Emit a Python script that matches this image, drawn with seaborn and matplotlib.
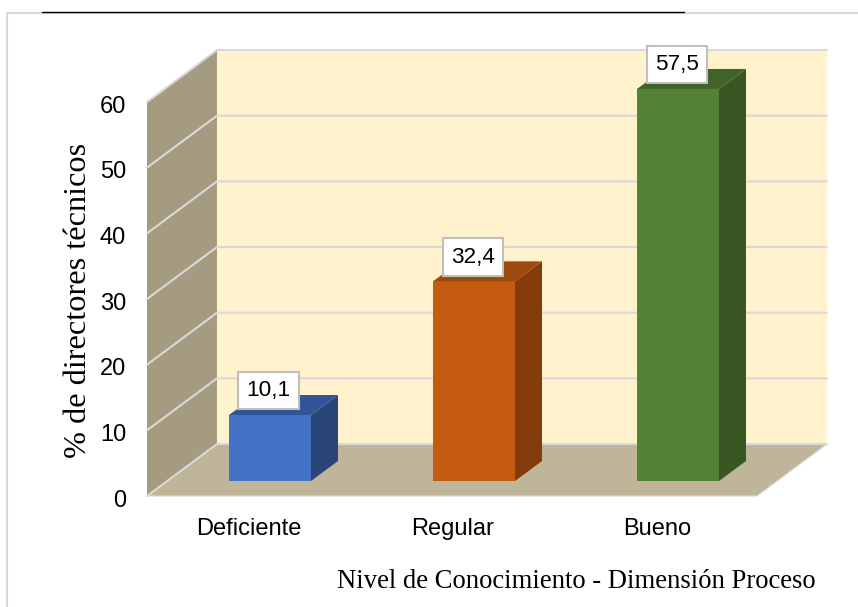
import pandas as pd
import matplotlib
matplotlib.use("Agg")
import matplotlib.pyplot as plt
from matplotlib.lines import Line2D
from matplotlib.patches import Polygon
from matplotlib.transforms import ScaledTranslation
import seaborn as sns

# === Datos
niveles = ["Deficiente", "Regular", "Bueno"]
alturas = [10.05, 30.4, 59.7]
etiquetas = ["10,1", "32,4", "57,5"]
ticks_y = [0, 10, 20, 30, 40, 50, 60]

colores = ["#4472C4", "#C55A11", "#548235"]
colores_lado = ["#2A4678", "#843C0C", "#385723"]
colores_techo = ["#305496", "#9C4A0E", "#406328"]

W, H = 858, 607
PX_X = 204.0      # pixeles por categoria
PX_Y = 394 / 60   # pixeles por unidad de y

sns.set_theme(style="white")
plt.rcParams["font.family"] = ["Liberation Sans", "DejaVu Sans"]

fig = plt.figure(figsize=(W / 100, H / 100), dpi=100, facecolor="white")
ax = fig.add_axes([147 / W, 1 - 496 / H, 610 / W, 394 / H])
ax.patch.set_visible(False)

# === Barras
df = pd.DataFrame({"nivel": niveles, "altura": alturas})
base = 15 / PX_Y
sns.barplot(data=df, x="nivel", y="altura", hue="nivel", palette=colores, dodge=False,
            width=82 / PX_X, saturation=1, bottom=base, legend=False, ax=ax, zorder=3,
            edgecolor="none", linewidth=0, clip_on=False)

x0 = -123 / PX_X
x1 = x0 + 610 / PX_X
y_max = ticks_y[-1]
ax.set_xlim(x0, x1)
ax.set_ylim(0, y_max)

# === Paredes y suelo (falso 3D)
dx, dy = 70 / PX_X, 52 / PX_Y
ax.add_patch(Polygon([(x0 + dx, dy), (x1 + dx, dy), (x1 + dx, y_max + dy), (x0 + dx, y_max + dy)],
                     fc="#FFF2CC", ec="none", clip_on=False, zorder=0.5))
ax.add_patch(Polygon([(x0, 0), (x0 + dx, dy), (x0 + dx, y_max + dy), (x0, y_max)],
                     fc="#A49B80", ec="none", clip_on=False, zorder=0.6))
ax.add_patch(Polygon([(x0, 0), (x1, 0), (x1 + dx, dy), (x0 + dx, dy)],
                     fc="#BFB599", ec="none", clip_on=False, zorder=0.7))

for t in ticks_y:
    ax.plot([x0, x0 + dx, x1 + dx], [t, t + dy, t + dy], color="#D9D9D9", lw=1.5,
            clip_on=False, zorder=1, solid_joinstyle="miter")
ax.plot([x0, x1, x1 + dx], [0, 0, dy], color="#D9D9D9", lw=0.8, clip_on=False, zorder=1)

# === Caras laterales y superiores de las barras
bx, by = 27 / PX_X, 20 / PX_Y
for barra, lado, techo, etiqueta in zip(ax.patches[:3], colores_lado, colores_techo, etiquetas):
    izq, der = barra.get_x(), barra.get_x() + barra.get_width()
    abajo, arriba = barra.get_y(), barra.get_y() + barra.get_height()
    ax.add_patch(Polygon([(der, abajo), (der + bx, abajo + by), (der + bx, arriba + by), (der, arriba)],
                         fc=lado, ec="none", clip_on=False, zorder=3))
    ax.add_patch(Polygon([(izq, arriba), (der, arriba), (der + bx, arriba + by), (izq + bx, arriba + by)],
                         fc=techo, ec="none", clip_on=False, zorder=3))
    ax.annotate(etiqueta, xy=((izq + der) / 2, arriba), xytext=(-1, 17.5), textcoords="offset points",
                ha="center", va="center", fontsize=16.2, color="black", zorder=5, annotation_clip=False,
                bbox=dict(boxstyle="square,pad=0.36", fc="white", ec="#BFBFBF", lw=1.5))

# === Ejes y textos
sns.despine(ax=ax, left=True, bottom=True)
ax.set_yticks(ticks_y)
ax.set_xticks([i - 21 / PX_X for i in range(len(niveles))])
ax.set_xticklabels(niveles)
ax.tick_params(axis="y", length=0, pad=15, labelsize=17, labelcolor="black")
ax.tick_params(axis="x", length=0, pad=15.5, labelsize=17, labelcolor="black")

# los numeros del eje y van un poco mas abajo en el original
baja = ScaledTranslation(0, -1.5 / 72, fig.dpi_scale_trans)
for lab in ax.get_yticklabels():
    lab.set_transform(lab.get_transform() + baja)

ax.set_ylabel("% de directores técnicos", fontfamily="Liberation Serif", fontsize=23.2,
              color="black", va="center")
ax.set_xlabel("Nivel de Conocimiento - Dimensión Proceso", fontfamily="Liberation Serif",
              fontsize=19.2, color="black", va="center")
ax.yaxis.set_label_coords((79 - 147) / 610, (496 - 300) / 394)
ax.xaxis.set_label_coords((576 - 147) / 610, (496 - 581) / 394)

# === Marco de la pagina
fig.add_artist(Line2D([7 / W, 7 / W, 1], [0, 1 - 13 / H, 1 - 13 / H], color="#D9D9D9", lw=1.5))
fig.add_artist(Line2D([42 / W, 684 / W], [1 - 12 / H, 1 - 12 / H], color="black", lw=1))

fig.savefig("out.png", dpi=100)
